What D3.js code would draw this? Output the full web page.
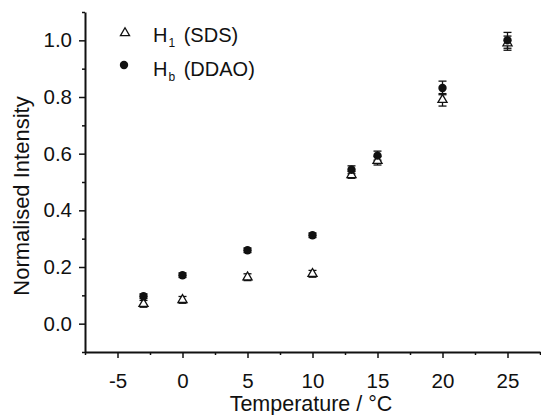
<!DOCTYPE html>
<html>
<head>
<meta charset="utf-8">
<script src="https://cdn.jsdelivr.net/npm/d3@7"></script>
<style>
  body { margin: 0; background: #fff; }
  text { font-family: "Liberation Sans", Arial, sans-serif; fill: #111; }
</style>
</head>
<body>
<svg width="541" height="415"></svg>
<script>
// temperatures (°C)
let temps = [-3, 0, 5, 10, 13, 15, 20, 25];
// H1 (SDS) normalised intensity + error
let sds = [0.07, 0.084, 0.164, 0.176, 0.525, 0.575, 0.79, 0.99];
let sdsErr = [0.012, 0.012, 0.012, 0.012, 0.012, 0.015, 0.022, 0.025];
// Hb (DDAO)
let ddao = [0.097, 0.171, 0.259, 0.312, 0.543, 0.593, 0.832, 1.0];
let ddaoErr = [0.008, 0.008, 0.008, 0.008, 0.014, 0.016, 0.024, 0.028];

let xTicks = [-5, 0, 5, 10, 15, 20, 25];
let yTicks = [0.0, 0.2, 0.4, 0.6, 0.8, 1.0];

let svg = d3.select("svg"),
  margin = { top: 12, right: 1, bottom: 63, left: 85 },
  width = 541 - margin.left - margin.right,
  height = 415 - margin.top - margin.bottom,
  g = svg.append("g").attr("transform", "translate(" + margin.left + "," + margin.top + ")");

let x = d3.scaleLinear().domain([-7.5, 27.5]).range([0, width]);
let y = d3.scaleLinear().domain([-0.1, 1.1]).range([height, 0]);

// minor ticks
g.append("g")
  .attr("transform", "translate(0," + height + ")")
  .call(d3.axisBottom(x).tickValues(d3.range(-7.5, 27.6, 5)).tickSize(3).tickFormat(""))
  .call(a => a.select(".domain").remove());
g.append("g")
  .call(d3.axisLeft(y).tickValues(d3.range(-0.1, 1.11, 0.2)).tickSize(3).tickFormat(""))
  .call(a => a.select(".domain").remove());

// major axes
let xAxis = g.append("g")
  .attr("transform", "translate(0," + height + ")")
  .call(d3.axisBottom(x).tickValues(xTicks).tickSize(6).tickSizeOuter(0).tickFormat(d => String(d)));
let yAxis = g.append("g")
  .call(d3.axisLeft(y).tickValues(yTicks).tickSize(6).tickSizeOuter(0).tickPadding(7).tickFormat(d3.format(".1f")));

[xAxis, yAxis].forEach(a => {
  a.selectAll("text").style("font-size", "20.5px").attr("fill", "#111");
  a.select(".domain").attr("stroke", "#111").attr("stroke-width", 2);
});
xAxis.selectAll(".tick text").attr("y", 35.5).attr("dy", 0);
g.selectAll("g line").attr("stroke", "#111").attr("stroke-width", 1.5);

// axis titles
svg.append("text")
  .attr("x", 311).attr("y", 410.5)
  .attr("text-anchor", "middle")
  .style("font-size", "21.5px")
  .text("Temperature / \u00B0C");
svg.append("text")
  .attr("transform", "translate(29,196) rotate(-90)")
  .attr("text-anchor", "middle")
  .style("font-size", "22px")
  .text("Normalised Intensity");

let sdsData = temps.map((t, i) => ({ t: t, v: sds[i], e: sdsErr[i] }));
let ddaoData = temps.map((t, i) => ({ t: t, v: ddao[i], e: ddaoErr[i] }));

function errBars(data) {
  let eb = g.append("g").attr("stroke", "#111").attr("stroke-width", 1.3);
  data.forEach(d => {
    let cx = x(d.t), y0 = y(d.v - d.e), y1 = y(d.v + d.e);
    eb.append("line").attr("x1", cx).attr("x2", cx).attr("y1", y0).attr("y2", y1);
    eb.append("line").attr("x1", cx - 4).attr("x2", cx + 4).attr("y1", y0).attr("y2", y0);
    eb.append("line").attr("x1", cx - 4).attr("x2", cx + 4).attr("y1", y1).attr("y2", y1);
  });
}

errBars(sdsData);
errBars(ddaoData);

let tri = d3.symbol().type(d3.symbolTriangle).size(36);

g.selectAll(".sds")
  .data(sdsData)
  .enter().append("path")
  .attr("class", "sds")
  .attr("d", tri)
  .attr("transform", d => "translate(" + x(d.t) + "," + y(d.v) + ")")
  .attr("fill", "#fff")
  .attr("stroke", "#111")
  .attr("stroke-width", 1.3);

g.selectAll(".ddao")
  .data(ddaoData)
  .enter().append("circle")
  .attr("class", "ddao")
  .attr("cx", d => x(d.t))
  .attr("cy", d => y(d.v))
  .attr("r", 4.2)
  .attr("fill", "#111");

// legend
let legend = svg.append("g");
legend.append("path")
  .attr("d", tri)
  .attr("transform", "translate(125,33)")
  .attr("fill", "#fff").attr("stroke", "#111").attr("stroke-width", 1.3);
legend.append("circle").attr("cx", 124).attr("cy", 65).attr("r", 4.2).attr("fill", "#111");

let l1 = legend.append("text").attr("x", 153).attr("y", 42).style("font-size", "20px");
l1.append("tspan").text("H");
l1.append("tspan").attr("dy", 5).attr("dx", 1).style("font-size", "12px").text("1");
l1.append("tspan").attr("dy", -5).attr("dx", 3).text(" (SDS)");

let l2 = legend.append("text").attr("x", 153).attr("y", 76).style("font-size", "20px");
l2.append("tspan").text("H");
l2.append("tspan").attr("dy", 5).attr("dx", 1).style("font-size", "12px").text("b");
l2.append("tspan").attr("dy", -5).attr("dx", 3).text(" (DDAO)");
</script>
</body>
</html>
